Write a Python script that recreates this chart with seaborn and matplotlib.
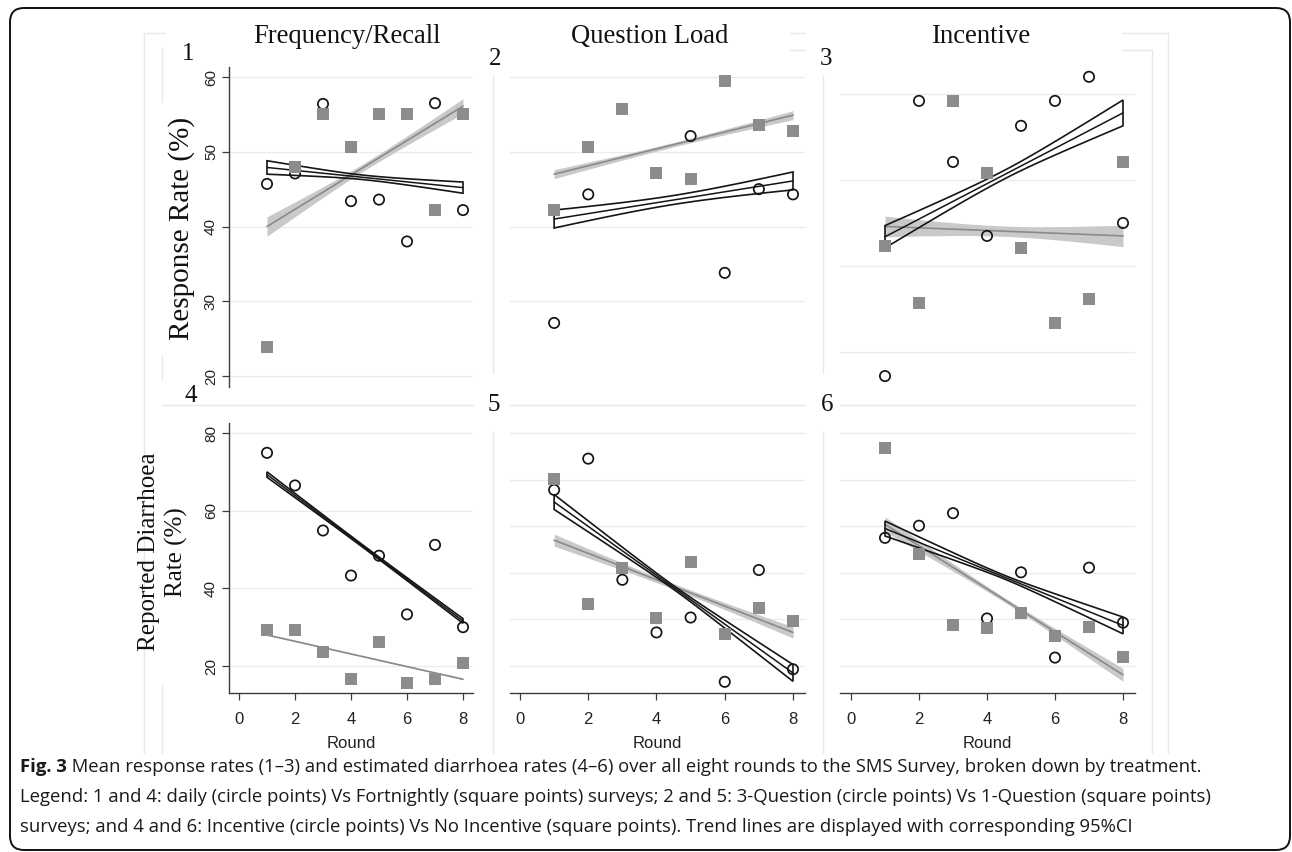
import numpy as np
import pandas as pd
import seaborn as sns
import matplotlib
matplotlib.use("Agg")
import matplotlib.pyplot as plt
from matplotlib.patches import FancyBboxPatch
from matplotlib.lines import Line2D
from matplotlib.transforms import IdentityTransform

# --- data ---
rounds = [1, 2, 3, 4, 5, 6, 7, 8]
col_titles = ["Frequency/Recall", "Question Load", "Incentive"]
panel_labels = ["1", "2", "3", "4", "5", "6"]

# response rate (%), circle = daily / 3-question / incentive, square = the other arm
p1_circle = [45.7, 47.1, 56.4, 43.4, 43.6, 38.0, 56.5, 42.2]
p1_square = [23.9, 48.0, 55.0, 50.7, 55.0, 55.0, 42.2, 55.0]
p2_circle = [27.1, 44.3, np.nan, np.nan, 52.1, 33.8, 45.0, 44.3]
p2_square = [42.2, 50.7, 55.7, 47.1, 46.4, 59.5, 53.6, 52.8]
p3_circle = [27.2, 59.2, 52.1, 43.5, 56.3, 59.2, 62.0, 45.0]
p3_square = [42.3, 35.7, 59.2, 50.8, 42.1, 33.4, 36.2, 52.1]
# reported diarrhoea rate (%)
p4_circle = [74.9, 66.5, 54.9, 43.3, 48.4, 33.3, 51.2, 30.0]
p4_square = [29.4, 29.4, 23.7, 16.6, 26.3, 15.7, 16.6, 20.9]
p5_circle = [57.8, 64.5, 38.5, 27.2, 30.4, 16.6, 40.6, 19.3]
p5_square = [60.1, 33.3, 41.0, 30.2, 42.4, 26.8, 32.4, 29.7]
p6_circle = [47.5, 50.1, 52.8, 30.2, 40.1, 21.8, 41.1, 29.3]
p6_square = [66.7, 44.0, 28.8, 28.1, 31.3, 26.4, 28.3, 22.0]

# trend line value at round 1 and round 8
p1_circle_fit = [47.9, 45.2]
p1_square_fit = [40.0, 56.1]
p2_circle_fit = [41.0, 46.1]
p2_square_fit = [47.0, 54.9]
p3_circle_fit = [43.4, 57.8]
p3_square_fit = [44.6, 43.5]
p4_circle_fit = [69.3, 31.6]
p4_square_fit = [28.0, 16.6]
p5_circle_fit = [55.2, 18.5]
p5_square_fit = [47.0, 27.2]
p6_circle_fit = [49.5, 28.7]
p6_square_fit = [50.4, 18.1]

# 95% CI half width at round 1, mid-way and round 8
p1_circle_ci = [0.9, 0.3, 0.75]
p1_square_ci = [1.3, 0.5, 1.0]
p2_circle_ci = [1.2, 0.6, 1.2]
p2_square_ci = [0.6, 0.3, 0.6]
p3_circle_ci = [1.3, 0.5, 1.5]
p3_square_ci = [1.2, 0.6, 1.25]
p4_circle_ci = [0.7, 0.3, 0.6]
p4_square_ci = [0.15, 0.1, 0.15]
p5_circle_ci = [1.6, 0.4, 1.8]
p5_square_ci = [1.3, 0.6, 1.2]
p6_circle_ci = [1.6, 0.4, 1.8]
p6_square_ci = [1.6, 0.5, 1.4]

yticks_top = [[20, 30, 40, 50, 60], [30, 40, 50, 60], [30, 40, 50, 60]]
yticks_bottom = [[20, 40, 60, 80], [20, 30, 40, 50, 60, 70], [20, 30, 40, 50, 60, 70]]
xticks = [0, 2, 4, 6, 8]

panels = [
    (p1_circle, p1_square, p1_circle_fit, p1_square_fit, p1_circle_ci, p1_square_ci),
    (p2_circle, p2_square, p2_circle_fit, p2_square_fit, p2_circle_ci, p2_square_ci),
    (p3_circle, p3_square, p3_circle_fit, p3_square_fit, p3_circle_ci, p3_square_ci),
    (p4_circle, p4_square, p4_circle_fit, p4_square_fit, p4_circle_ci, p4_square_ci),
    (p5_circle, p5_square, p5_circle_fit, p5_square_fit, p5_circle_ci, p5_square_ci),
    (p6_circle, p6_square, p6_circle_fit, p6_square_fit, p6_circle_ci, p6_square_ci),
]

sns.set_theme(style="white")
plt.rcParams["font.family"] = ["Liberation Sans", "DejaVu Sans"]

W, H = 1292, 852
fig = plt.figure(figsize=(W / 100, H / 100), dpi=100)
fig.patch.set_facecolor("white")

SERIF = ["Liberation Serif", "DejaVu Serif"]
GRID = "#e6edf1"
FAINT = "#e2eaef"
AXC = "#3c3c3c"


def add_px_axes(x0, y0, x1, y1):
    return fig.add_axes([x0 / W, 1 - y1 / H, (x1 - x0) / W, (y1 - y0) / H])


def band_half(ci, xs):
    t = (xs - 4.5) / 3.5
    hend = np.where(t < 0, ci[0], ci[2])
    return np.sqrt(ci[1] ** 2 + (hend ** 2 - ci[1] ** 2) * t ** 2)


def draw_trend(ax, fit, ci, open_band):
    xs = np.linspace(rounds[0], rounds[-1], 60)
    centre = np.interp(xs, [rounds[0], rounds[-1]], fit)
    h = band_half(ci, xs)
    if open_band:
        ax.fill(np.r_[xs, xs[::-1]], np.r_[centre + h, (centre - h)[::-1]],
                facecolor="none", edgecolor="#151515", lw=1.2, zorder=3)
        sns.lineplot(x=[rounds[0], rounds[-1]], y=fit, color="#151515", lw=1.1, ax=ax, zorder=3)
    else:
        ax.fill_between(xs, centre - h, centre + h, color="#c9c9c9", lw=0, zorder=2)
        sns.lineplot(x=[rounds[0], rounds[-1]], y=fit, color="#8a8a8a", lw=1.2, ax=ax, zorder=2.5)


col_x = [(229, 473), (510, 805), (840, 1135)]
row_y = [(67, 387), (423, 693)]
xlims = [(-0.357, 8.357), (-0.293, 8.352), (-0.324, 8.353)]
ylims = [[(18.53, 61.34), (18.53, 61.34), (25.93, 63.14)],
         [(13.05, 82.58), (14.2, 72.15), (14.2, 72.15)]]

for i, (circ, sq, cfit, sfit, cci, sci) in enumerate(panels):
    r, c = divmod(i, 3)
    ax = add_px_axes(col_x[c][0], row_y[r][0], col_x[c][1], row_y[r][1])
    ax.set_facecolor("white")
    ax.set_xlim(*xlims[c])
    ax.set_ylim(*ylims[r][c])
    ax.set_yticks((yticks_top if r == 0 else yticks_bottom)[c])
    ax.set_xticks(xticks)
    ax.yaxis.grid(True, color=GRID, lw=1.0)
    ax.xaxis.grid(False)
    ax.set_axisbelow(True)

    draw_trend(ax, sfit, sci, open_band=False)
    draw_trend(ax, cfit, cci, open_band=True)
    sns.scatterplot(x=rounds, y=circ, marker="o", s=55, fc="none", ec="#151515",
                    linewidth=1.25, ax=ax, zorder=4)
    sns.scatterplot(x=rounds, y=sq, marker="s", s=64, color="#8c8c8c",
                    linewidth=0, ax=ax, zorder=5)
    ax.set_xlabel("")
    ax.set_ylabel("")

    for side in ["top", "right"]:
        ax.spines[side].set_visible(False)
    ax.spines["left"].set_visible(c == 0)
    ax.spines["bottom"].set_visible(r == 1)
    ax.spines["left"].set_color(AXC)
    ax.spines["bottom"].set_color(AXC)
    ax.spines["left"].set_linewidth(1.0)
    ax.spines["bottom"].set_linewidth(1.0)

    if c == 0:
        ax.tick_params(axis="y", left=True, length=5, width=0.9, color=AXC,
                       labelsize=11, labelrotation=90, pad=3, labelcolor="#222222")
        for lab in ax.get_yticklabels():
            lab.set_va("center")
    else:
        ax.tick_params(axis="y", left=False, labelleft=False)
    if r == 1:
        ax.tick_params(axis="x", bottom=True, length=5, width=0.9, color=AXC,
                       labelsize=12, pad=9, labelcolor="#222222")
        ax.set_xlabel("Round", fontsize=12, labelpad=6, color="#222222")
    else:
        ax.tick_params(axis="x", bottom=False, labelbottom=False)


def ftext(x, y, s, **kw):
    return fig.text(x / W, 1 - y / H, s, **kw)


# column titles and panel numbers
for txt, x in zip(col_titles, [347, 650, 982]):
    ftext(x, 43, txt, family=SERIF, fontsize=19.2, ha="center", va="baseline", color="#111111")
num_pos = [(188, 60), (495, 65), (826, 65), (191, 402), (494, 411), (827, 411)]
for lab, (x, y) in zip(panel_labels, num_pos):
    ftext(x, y, lab, family=SERIF, fontsize=18, ha="center", va="baseline", color="#111111")

ftext(182, 228, "Response Rate (%)", family=SERIF, fontsize=21, rotation=90,
      ha="center", va="center", color="#111111")
ftext(163, 552, "Reported Diarrhoea\nRate (%)", family=SERIF, fontsize=18, rotation=90,
      ha="center", va="center", multialignment="center", linespacing=1.3, color="#111111")

# faint region borders left over from the combined panels
faint_v = [(144, 33, 753), (162, 48, 102), (162, 355, 380), (162, 685, 753),
           (493, 75, 373), (493, 432, 753), (823, 75, 373), (823, 432, 753),
           (1152, 50, 753), (1168, 33, 753)]
faint_h = [(33, 144, 165), (33, 1122, 1168), (50, 1122, 1152), (33, 790, 805), (50, 790, 805),
           (405, 162, 473), (405, 510, 805), (405, 840, 1135)]
for x, y0, y1 in faint_v:
    fig.add_artist(Line2D([x / W, x / W], [1 - y0 / H, 1 - y1 / H], transform=fig.transFigure,
                          color=FAINT, lw=1.0, zorder=0))
for y, x0, x1 in faint_h:
    fig.add_artist(Line2D([x0 / W, x1 / W], [1 - y / H, 1 - y / H], transform=fig.transFigure,
                          color=FAINT, lw=1.0, zorder=0))

# caption
cap_font = ["Open Sans", "Noto Sans", "DejaVu Sans"]
cap_size = 13.3
cap_rest = (" Mean response rates (1\u20133) and estimated diarrhoea rates (4\u20136) over all eight "
            "rounds to the SMS Survey, broken down by treatment.")
cap_line2 = ("Legend: 1 and 4: daily (circle points) Vs Fortnightly (square points) surveys; 2 and 5: "
             "3-Question (circle points) Vs 1-Question (square points)")
cap_line3 = ("surveys; and 4 and 6: Incentive (circle points) Vs No Incentive (square points). "
             "Trend lines are displayed with corresponding 95%CI")
t0 = ftext(20, 772, "Fig. 3", family=cap_font, fontsize=cap_size, fontweight="bold",
           va="baseline", color="#1a1a1a")
fig.canvas.draw()
bb = t0.get_window_extent(renderer=fig.canvas.get_renderer())
fig.text(bb.x1 / W, 1 - 772 / H, cap_rest, family=cap_font, fontsize=cap_size,
         va="baseline", color="#1a1a1a")
ftext(20, 802, cap_line2, family=cap_font, fontsize=cap_size, va="baseline", color="#1a1a1a")
ftext(20, 832, cap_line3, family=cap_font, fontsize=cap_size, va="baseline", color="#1a1a1a")

# rounded outer frame
frame = FancyBboxPatch((10, 2), 1280, 842, boxstyle="round,pad=0,rounding_size=14",
                       transform=IdentityTransform(), fill=False, ec="#111111", lw=1.4)
fig.add_artist(frame)

fig.savefig("out.png", dpi=100, facecolor="white")
